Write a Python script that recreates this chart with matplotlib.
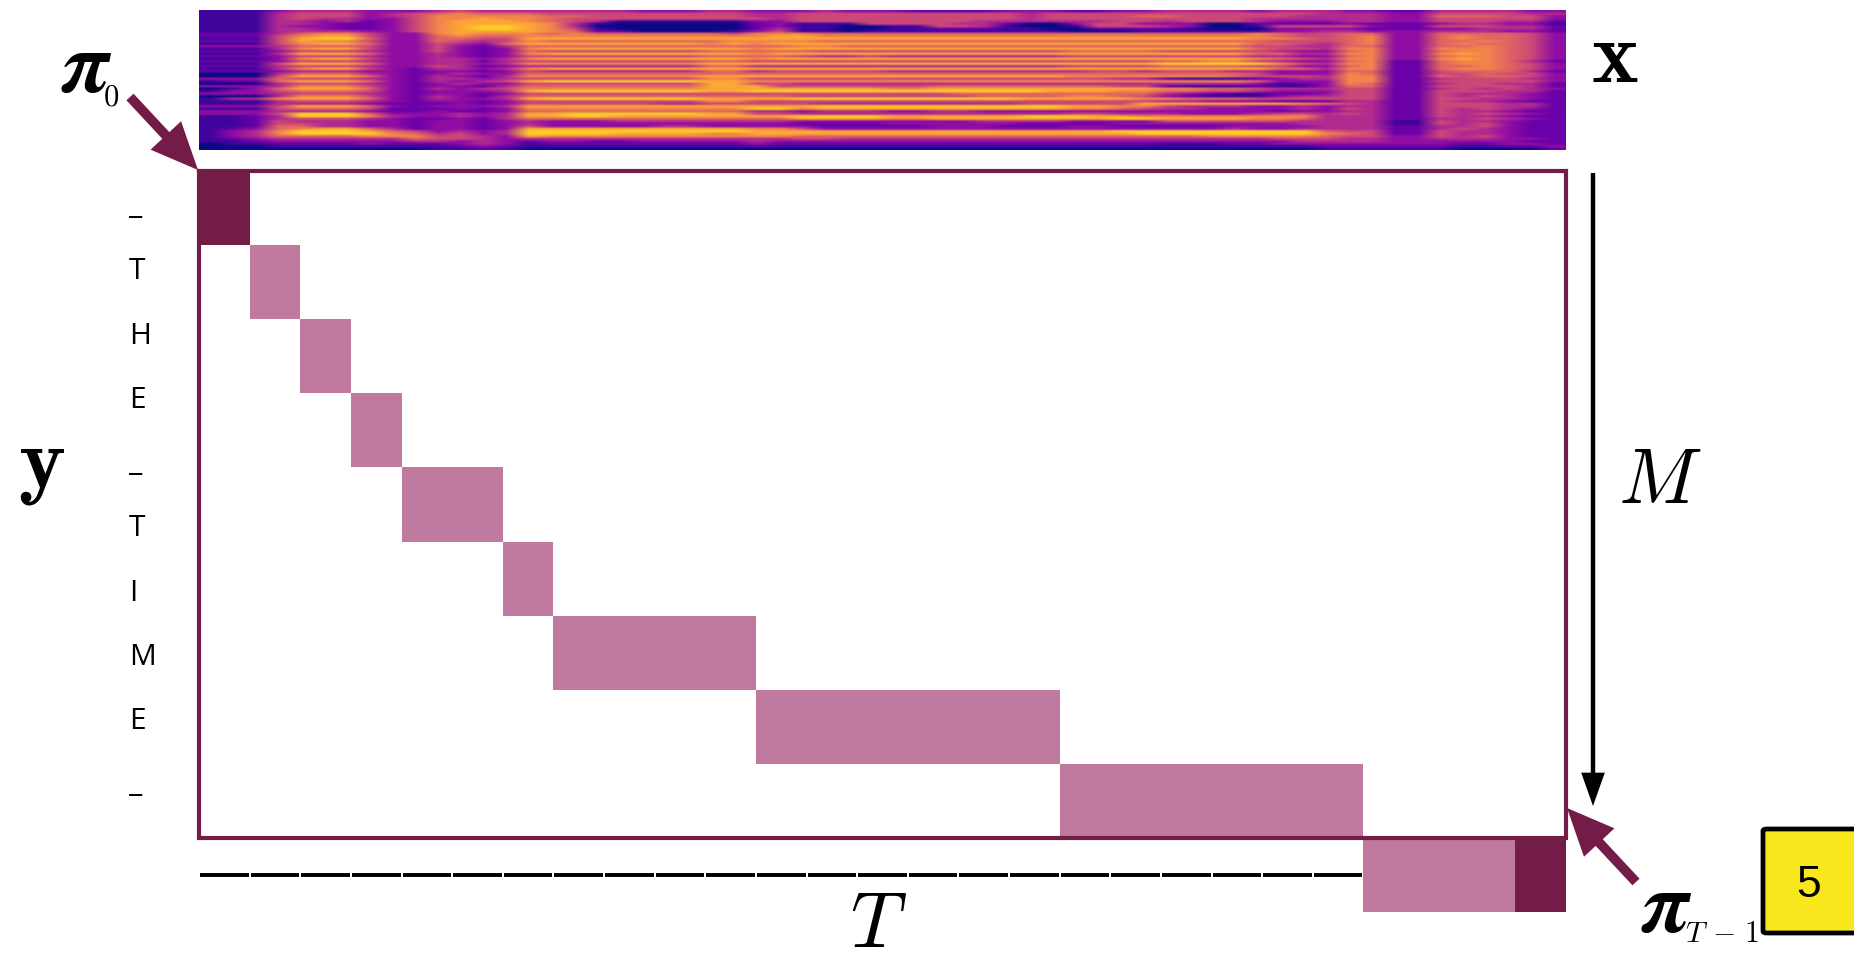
#!/usr/bin/env python
# -*- coding: utf-8 -*-
"""Monotonic alignment path drawn under a mel spectrogram."""

import matplotlib

matplotlib.use("Agg")
import matplotlib.pyplot as plt
import numpy as np
from matplotlib.patches import FancyArrowPatch, FancyBboxPatch


FIG_W = 1854
FIG_H = 955

TOKENS = ["_", "T", "H", "E", "_", "T", "I", "M", "E", "_"]
DURATIONS = [1, 1, 1, 1, 2, 1, 4, 6, 6, 4]
DARK_CELLS = [(0, 0), (9, 26)]  # (row, frame)
N_FRAMES = 27
BOX_ROWS = 9

# spectrogram, one digit per cell, 0 dark .. 9 bright
SPEC_ROWS = [
    "1113444333 4544444443 3344333433 3222233322 3344443444 3322444433",
    "1114555345 6766655555 5555445555 5555554555 5555555554 4433555544",
    "1114555345 7777766555 5555445555 5555554555 5665555544 4433666553",
    "1114544335 7787765555 5555545555 5555554555 5555554444 4433555553",
    "1114434235 7888765411 1111335555 5555444444 5545554333 4433555442",
    "1114432235 7888874100 0000231115 5554420035 5333002222 3222344331",
    "1114332235 7899874000 0000231100 1155410015 5543001555 5322555442",
    "1114432235 7899875100 0000241100 1122211002 2221000333 3222334442",
    "1114444335 7888876220 0001351101 1111111100 0111111334 4333444332",
    "2224677533 7877767666 6665777666 6666666666 6666667655 6633666653",
    "2225788533 6766777777 7777788777 7777777777 7777777655 6733676653",
    "1115899633 6655888888 8888888888 8888888888 8888887765 6733676653",
    "2225877533 6545766666 6667777666 6666666666 6666666555 6733667653",
    "1115788633 5436888888 8878788888 8888888888 8888886654 6733676653",
    "3334666533 5324666666 6666667766 6666666666 6666665544 6633667653",
    "1114788533 5323788888 8888788888 8888888888 8888886554 7733777653",
    "2223555433 5323655555 5566666555 5555555566 6655555433 6733677653",
    "1114888633 4323788888 8888788888 8888888888 8888886644 7733787653",
    "2223555433 4323555555 5566665445 4444444455 5555554433 6733677653",
    "1113788533 4434788888 8888788888 8888888888 8888887654 7733787653",
    "2223555433 4424555555 5566555555 5555555555 5566775433 6722677642",
    "1115888633 4434777777 7788888888 8888888888 8899999754 7722677653",
    "2224555433 5423444444 4466444444 4444444455 5566665533 6722667653",
    "1114788532 4434788888 8888888888 8888888888 8888888664 7722677653",
    "2223444332 3323544444 4466455555 4444444445 5455544333 6622566642",
    "0004666432 3433666666 6666666666 6666666666 6666665333 7622556553",
    "0005888632 4324777777 7788888888 8888888877 7777765554 7722656653",
    "3336555432 4434555555 5577555555 5555555555 4421112344 7722455543",
    "1226888632 4345899999 9988777777 7777777777 7777776333 7722555553",
    "0004555432 3433555555 5588554444 4444444444 4444443123 7622455442",
    "3334777532 3324666666 6688855555 5566666666 5521112113 6622555542",
    "0136888632 4345777777 7788888888 7788888888 8877665444 5522454543",
    "1335666532 3334899999 9988999999 9999999888 7766554333 5522555442",
    "3334555432 3323555555 5555555555 5556666666 6643211223 5522544432",
    "0004777532 4324666666 6666665555 5555666677 6532111344 5522545432",
    "1447888632 4334899999 9988889999 9999998888 8776665555 5522554432",
    "1114555432 3323555555 5577555555 5555555555 5544333222 4422544322",
    "1114444322 2323555555 4455555444 4444445555 5888888876 5422555442",
    "3335888632 3334888888 8888888999 9999999988 7754443343 4422555442",
    "1115666522 2323777777 7777997888 8888888877 6544333343 5422545432",
    "3334444322 3223666666 6666443444 3344333333 3333333233 4422544322",
    "3335999633 3434889999 9988554444 4444444455 4443334554 5422545432",
    "1124999743 3434889988 8888889999 8888889998 8777777774 4422544322",
    "1124555432 2324666666 6666668888 7788888888 9988887764 4422445432",
    "1125444332 3323433344 4444443333 3333444433 3355555544 4411544322",
    "1125544332 3323433333 3333332222 3333332222 3333333344 4411545322",
    "1126644332 3323533333 4433333222 2233322233 2222233334 4422445322",
    "1236788642 3323888888 8888775333 3333333333 3333343344 4422454322",
    "1347999865 3434999999 9999888888 8888888888 9999999996 5522544322",
    "1347999976 4534999988 8877888888 8888888888 8999999997 6522544322",
    "1346666777 5543877777 7777776666 6666666666 6666777776 5533545322",
    "1234444446 5543444444 4444445544 4444444444 4444444555 4433444332",
    "1123333334 4343233223 3333433333 3333333333 3333333344 4433333322",
    "0112222322 2343122222 2222322222 2222222222 2211122333 3333322332",
    "0001111111 1232111111 1111211111 1111111111 1111111112 2222211223",
    "0000000000 1121000000 0000000000 0000000000 0000000001 1111100002",
]

PATH_DARK = "#741c48"
PATH_LIGHT = "#c0799f"
BADGE_YELLOW = "#f8e71c"


def _ax_from_px(fig, left, top, right, bottom):
    """像素框转 axes，原点在图片左上角。"""
    return fig.add_axes(
        [left / FIG_W, 1 - bottom / FIG_H, (right - left) / FIG_W, (bottom - top) / FIG_H]
    )


def _px(x, y):
    return x / FIG_W, 1 - y / FIG_H


def _arrow(fig, tail, tip, color, style):
    fig.add_artist(
        FancyArrowPatch(
            _px(*tail),
            _px(*tip),
            transform=fig.transFigure,
            arrowstyle=style,
            mutation_scale=10,
            color=color,
            lw=0,
            shrinkA=0,
            shrinkB=0,
            zorder=6,
        )
    )


def main():
    plt.rcParams["mathtext.fontset"] = "cm"
    fig = plt.figure(figsize=(FIG_W / 100, FIG_H / 100), dpi=100)

    spec = np.array([[int(c) for c in row.replace(" ", "")] for row in SPEC_ROWS]) / 10.0
    ax_spec = _ax_from_px(fig, 199, 10, 1566, 150)
    ax_spec.imshow(spec, aspect="auto", cmap="plasma", vmin=0, vmax=1, interpolation="bilinear")
    ax_spec.axis("off")

    ax = _ax_from_px(fig, 199, 171, 1566, 912)
    ax.set_xlim(0, N_FRAMES)
    ax.set_ylim(len(TOKENS), 0)
    ax.axis("off")

    for frame in range(N_FRAMES):
        ax.plot([frame + 0.02, frame + 0.98], [9.5, 9.5], color="black", lw=2.8,
                solid_capstyle="butt", zorder=1)

    starts = np.cumsum([0] + DURATIONS[:-1])
    rows = np.arange(len(DURATIONS)) + 0.5
    ax.barh(rows, DURATIONS, left=starts, height=1.0, color=PATH_LIGHT, lw=0, zorder=2)
    for row, frame in DARK_CELLS:
        ax.barh(row + 0.5, 1, left=frame, height=1.0, color=PATH_DARK, lw=0, zorder=4)

    ax.plot([0, N_FRAMES, N_FRAMES, 0, 0], [0, 0, BOX_ROWS, BOX_ROWS, 0], color=PATH_DARK,
            lw=3.0, solid_joinstyle="miter", clip_on=False, zorder=3)

    for i, token in enumerate(TOKENS):
        baseline = 215 + i * 64.3
        if token == "_":
            baseline -= 1.5
        x, y = _px(129, baseline)
        fig.text(x, y, token, family="Open Sans", fontsize=21.5, ha="left", va="baseline")

    fig.text(*_px(1615, 82), r"$\mathbf{x}$", fontsize=64, ha="center", va="baseline")
    fig.text(*_px(41, 487), r"$\mathbf{y}$", fontsize=64, ha="center", va="baseline")
    fig.text(*_px(1660, 503), r"$M$", fontsize=56, ha="center", va="baseline")
    fig.text(*_px(878, 947), r"$T$", fontsize=56, ha="center", va="baseline")

    fig.text(*_px(61, 92), r"$\boldsymbol{\pi}$", math_fontfamily="stix", fontsize=62,
             ha="left", va="baseline")
    fig.text(*_px(103, 105), r"$0$", fontsize=22, ha="left", va="baseline")
    fig.text(*_px(1641, 932), r"$\boldsymbol{\pi}$", math_fontfamily="stix", fontsize=62,
             ha="left", va="baseline")
    fig.text(*_px(1685, 942), r"$T\,-\,1$", fontsize=21.5, ha="left", va="baseline")

    head = "simple,head_length=3.4,head_width=3.0,tail_width=0.7"
    _arrow(fig, (130, 97), (198, 170), PATH_DARK, head)
    _arrow(fig, (1636, 882), (1567, 808), PATH_DARK, head)
    _arrow(fig, (1593, 173), (1593, 806), "black", "simple,head_length=2.4,head_width=1.7,tail_width=0.32")

    badge_x, badge_y = _px(1763, 933)
    badge_w, badge_h = 120 / FIG_W, 104 / FIG_H
    fig.add_artist(
        FancyBboxPatch(
            (badge_x, badge_y), badge_w, badge_h,
            boxstyle="round,pad=0,rounding_size=0.002",
            transform=fig.transFigure,
            facecolor=BADGE_YELLOW,
            edgecolor="black",
            lw=3.4,
            clip_on=False,
        )
    )
    fig.text(*_px(1809, 897), "5", family="Liberation Sans", fontsize=32, ha="center", va="baseline")

    fig.savefig("out.png", dpi=100)
    plt.close(fig)


if __name__ == "__main__":
    main()
